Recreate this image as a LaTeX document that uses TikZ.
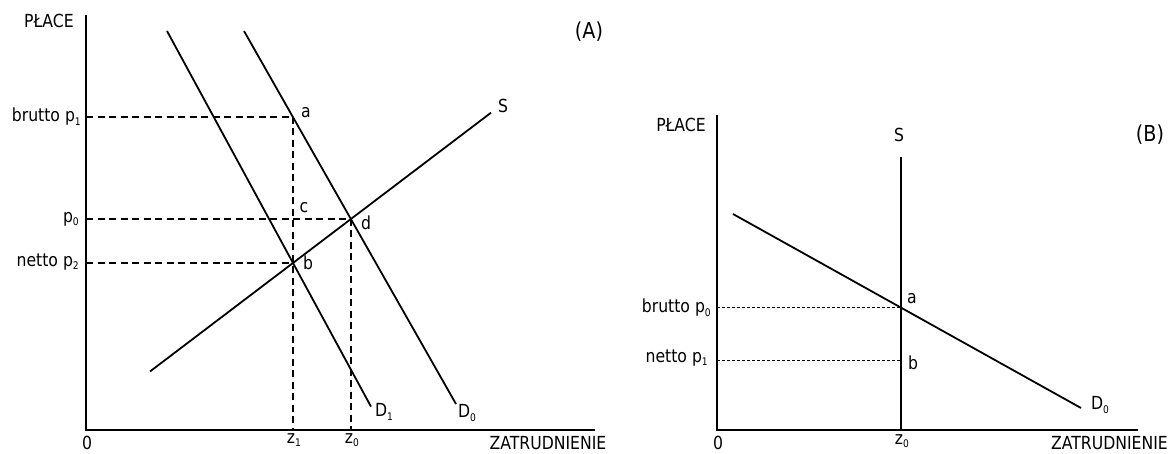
\documentclass[tikz,border=0pt]{standalone}
\usepackage{fontspec}
\setmainfont{DejaVu Sans}[FakeStretch=0.87]
\newcommand{\lsub}[1]{\raisebox{-0.18em}{\fontsize{10.5}{10.5}\selectfont #1}}
\tikzset{
  lbl/.style={inner sep=0pt, font=\fontsize{18}{21}\selectfont},
  big/.style={inner sep=0pt, font=\fontsize{22}{25}\selectfont},
  axis/.style={line width=2.4pt},
  curve/.style={line width=1.8pt},
  dashA/.style={line width=1.8pt, dash pattern=on 7pt off 4.5pt},
  dashB/.style={line width=1pt, dash pattern=on 3pt off 2pt},
}
\begin{document}
\begin{tikzpicture}[x=1pt, y={(0pt,-1pt)}]
\useasboundingbox (0,0) rectangle (1170,454);
\fill[white] (0,0) rectangle (1170,454);
% ---------------- Panel A ----------------
\coordinate (OA) at (86,430);
\coordinate (yA) at (86,15);
\coordinate (xA) at (595,430);
\coordinate (pa) at (293,117);
\coordinate (pc) at (293,219);
\coordinate (pd) at (351,219);
\coordinate (pb) at (293,263);
\coordinate (la) at (86,117);
\coordinate (lc) at (86,219);
\coordinate (lb) at (86,263);
\coordinate (fz1) at (293,430);
\coordinate (fz0) at (351,430);
\coordinate (D1s) at (167,31);
\coordinate (D1e) at (371,406.6);
\coordinate (D0s) at (244,31);
\coordinate (D0e) at (456,404);
\coordinate (Ss) at (150,371.5);
\coordinate (Se) at (491,112.7);

\draw[dashA] (la) -- (pa);
\draw[dashA] (lc) -- (pd);
\draw[dashA] (lb) -- (pb);
\draw[dashA] (pa) -- (fz1);
\draw[dashA] (pd) -- (fz0);
\draw[curve] (D1s) -- (D1e);
\draw[curve] (D0s) -- (D0e);
\draw[curve] (Ss) -- (Se);
\draw[axis] (yA) -- (OA) -- (xA);

\node[lbl] (placeA) at (49,21) {PŁACE};
\node[big] (tA) at (589,32) {(A)};
\node[lbl, anchor=east] (bruttoA) at (81,117) {brutto p\lsub{1}};
\node[lbl, anchor=east] (p0A) at (79,219) {p\lsub{0}};
\node[lbl, anchor=east] (nettoA) at (79,262) {netto p\lsub{2}};
\node[lbl] (na) at (306,113) {a};
\node[lbl] (nc) at (304,208) {c};
\node[lbl] (nd) at (366,223) {d};
\node[lbl] (nb) at (308,263) {b};
\node[lbl] (nS) at (503,106) {S};
\node[lbl] (nD1) at (384,412) {D\lsub{1}};
\node[lbl] (nD0) at (467,413) {D\lsub{0}};
\node[lbl] (n0A) at (87,443) {0};
\node[lbl] (nz1) at (294,440) {z\lsub{1}};
\node[lbl] (nz0) at (352,440) {z\lsub{0}};
\node[lbl] (zatA) at (548,443) {ZATRUDNIENIE};

% ---------------- Panel B ----------------
\coordinate (OB) at (717,430);
\coordinate (yB) at (717,115);
\coordinate (xB) at (1138,430);
\coordinate (Sbt) at (901,157);
\coordinate (Sbb) at (901,430);
\coordinate (qa) at (901,308);
\coordinate (qb) at (901,360);
\coordinate (qla) at (717,308);
\coordinate (qlb) at (717,360);
\coordinate (DBs) at (733,214);
\coordinate (DBe) at (1081,408);

\draw[dashB] (qla) -- (qa);
\draw[dashB] (qlb) -- (qb);
\draw[curve] (Sbt) -- (Sbb);
\draw[curve] (DBs) -- (DBe);
\draw[axis] (yB) -- (OB) -- (xB);

\node[lbl] (placeB) at (681,125) {PŁACE};
\node[lbl] (nSB) at (899,135) {S};
\node[big] (tB) at (1150,135) {(B)};
\node[lbl, anchor=east] (bruttoB) at (711,308) {brutto p\lsub{0}};
\node[lbl, anchor=east] (nettoB) at (708,358) {netto p\lsub{1}};
\node[lbl] (naB) at (912,299) {a};
\node[lbl] (nbB) at (913,363) {b};
\node[lbl] (nD0B) at (1100,405) {D\lsub{0}};
\node[lbl] (n0B) at (718,443) {0};
\node[lbl] (nz0B) at (902,441) {z\lsub{0}};
\node[lbl, anchor=east] (zatB) at (1168,443) {ZATRUDNIENIE};
\end{tikzpicture}
\end{document}
